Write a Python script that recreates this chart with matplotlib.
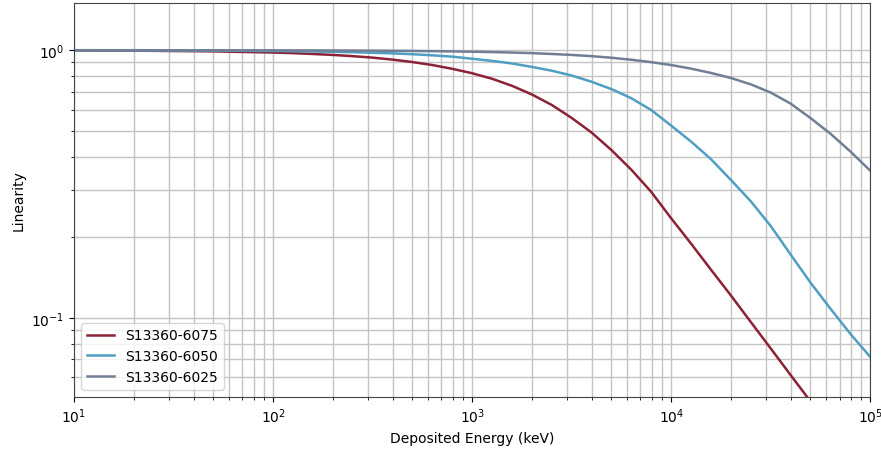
import numpy as np
import matplotlib.pyplot as plt
from matplotlib.ticker import NullFormatter

# values (Deposited Energy in keV -> linearity)
energy = [10, 20, 50, 100, 126, 158, 200, 251, 316, 398, 501, 631, 794, 1000,
          1259, 1585, 1995, 2512, 3162, 3981, 5012, 6310, 7943, 10000, 12589,
          15849, 19953, 25119, 31623, 39811, 50119, 63096, 79433, 100000]

lin_6075 = [0.998, 0.996, 0.990, 0.980, 0.975, 0.968, 0.960, 0.950, 0.938, 0.922,
            0.903, 0.880, 0.852, 0.820, 0.782, 0.736, 0.683, 0.624, 0.558, 0.492,
            0.423, 0.357, 0.295, 0.235, 0.189, 0.151, 0.121, 0.0963, 0.0767,
            0.0610, 0.0486, 0.0386, 0.0307, 0.0244]
lin_6050 = [0.9993, 0.9986, 0.9965, 0.993, 0.991, 0.989, 0.986, 0.983, 0.978,
            0.973, 0.966, 0.957, 0.946, 0.929, 0.912, 0.892, 0.866, 0.838, 0.804,
            0.762, 0.715, 0.661, 0.597, 0.522, 0.455, 0.391, 0.327, 0.272, 0.220,
            0.172, 0.135, 0.108, 0.087, 0.0713]
lin_6025 = [1.0, 0.9997, 0.9994, 0.9987, 0.9984, 0.998, 0.9974, 0.9967, 0.9959,
            0.9948, 0.9935, 0.9918, 0.9897, 0.987, 0.984, 0.980, 0.975, 0.968,
            0.960, 0.950, 0.937, 0.921, 0.902, 0.880, 0.853, 0.822, 0.787, 0.745,
            0.694, 0.631, 0.557, 0.487, 0.418, 0.354]

labels = ['S13360-6075', 'S13360-6050', 'S13360-6025']
colors = ['#8c2236', '#4f9fc2', '#717f94']

fig = plt.figure(figsize=(8.81, 4.52), dpi=100)
ax = fig.add_axes([0.084, 0.12, 0.904, 0.871])

for y, lab, c in zip([lin_6075, lin_6050, lin_6025], labels, colors):
    ax.plot(energy, y, color=c, lw=1.8, label=lab)

ax.set_xscale('log')
ax.set_yscale('log')
ax.set_xlim(10, 1e5)
ax.set_ylim(0.0507, 1.5)
ax.yaxis.set_minor_formatter(NullFormatter())
ax.grid(True, which='both', color='#c4c4c4', lw=1)
ax.set_axisbelow(True)
for s in ax.spines.values():
    s.set_color('#444444')

ax.set_xlabel('Deposited Energy (keV)')
ax.set_ylabel('Linearity')
ax.legend(loc='lower left')

plt.savefig('out.png', dpi=100)
